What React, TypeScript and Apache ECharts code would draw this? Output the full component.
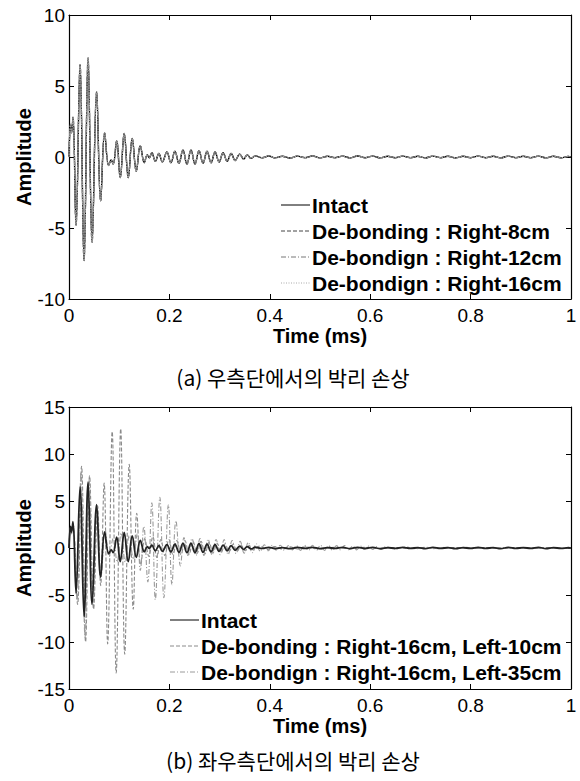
import React, { useEffect, useRef } from "react";
import * as echarts from "echarts";

// ---------- data (time in ms, amplitude) ----------
const timeTicks = { min: 0, max: 1, interval: 0.2 };
const ampRangeA = { min: -10, max: 10, interval: 5 };
const ampRangeB = { min: -15, max: 15, interval: 5 };

const namesA = [
  "Intact",
  "De-bonding : Right-8cm",
  "De-bondign : Right-12cm",
  "De-bondign : Right-16cm",
];
const namesB = [
  "Intact",
  "De-bonding : Right-16cm, Left-10cm",
  "De-bondign : Right-16cm, Left-35cm",
];

const captionA = "(a) 우측단에서의 박리 손상";
const captionB = "(b) 좌우측단에서의 박리 손상";

// Intact signal (same in both panels)
const intact: [number, number][] = [
  [0, 0], [0.003, 2.3], [0.005, 1.7], [0.008, 2.8], [0.014, -4.8], [0.022, 6.5],
  [0.030, -7.3], [0.038, 7.0], [0.046, -6.0], [0.055, 4.6], [0.063, -3.1], [0.071, 1.7],
  [0.079, -0.6], [0.084, -0.2], [0.088, -0.5], [0.095, 1.15], [0.102, -1.45], [0.110, 1.65],
  [0.118, -1.45], [0.126, 1.3], [0.134, -1.0], [0.142, 0.8], [0.150, -0.4], [0.156, 0.15],
  [0.160, -0.05], [0.165, 0.3], [0.172, -0.3], [0.179, 0.25], [0.186, -0.35], [0.195, 0.35],
  [0.203, -0.4], [0.211, 0.4], [0.219, -0.45], [0.227, 0.5], [0.235, -0.5], [0.243, 0.5],
  [0.251, -0.5], [0.259, 0.45], [0.267, -0.45], [0.275, 0.4], [0.283, -0.4], [0.291, 0.35],
  [0.299, -0.35], [0.307, 0.3], [0.315, -0.3], [0.323, 0.25], [0.331, -0.25], [0.340, 0.2],
  [0.348, -0.15], [0.355, 0.15], [0.363, -0.1], [0.371, 0.08], [0.385, -0.05], [0.398, 0.07],
  [0.41, -0.06], [0.425, 0.05], [0.44, -0.07], [0.455, 0.06], [0.47, -0.05], [0.485, 0.07],
  [0.5, -0.06], [0.515, 0.05], [0.53, -0.05], [0.545, 0.06], [0.56, -0.06], [0.575, 0.07],
  [0.59, -0.05], [0.605, 0.06], [0.62, -0.06], [0.635, 0.05], [0.65, -0.05], [0.665, 0.06],
  [0.68, -0.05], [0.695, 0.05], [0.71, -0.06], [0.725, 0.06], [0.74, -0.05], [0.755, 0.05],
  [0.77, -0.06], [0.785, 0.05], [0.8, -0.05], [0.815, 0.06], [0.83, -0.05], [0.845, 0.05],
  [0.86, -0.06], [0.875, 0.06], [0.89, -0.05], [0.905, 0.05], [0.92, -0.05], [0.935, 0.06],
  [0.95, -0.06], [0.965, 0.05], [0.98, -0.05], [0.995, 0.04], [1.0, 0],
];

// Panel (a): the three right-end de-bonding signals coincide with the intact one
const right8 = intact;
const right12 = intact;
const right16 = intact;

// Panel (b)
const left10: [number, number][] = [
  [0, 0], [0.003, 2.2], [0.005, 1.6], [0.008, 2.6], [0.017, -6.0], [0.025, 8.7],
  [0.033, -10.0], [0.041, 7.7], [0.049, -6.5], [0.057, 4.5], [0.063, -4.0], [0.070, 6.9],
  [0.077, -10.2], [0.086, 12.4], [0.094, -13.3], [0.103, 12.7], [0.111, -11.3], [0.120, 8.9],
  [0.128, -6.5], [0.135, 3.7], [0.143, -1.8], [0.151, 1.0], [0.159, -0.9], [0.167, 1.2],
  [0.175, -1.0], [0.183, 0.9], [0.191, -0.8], [0.199, 0.9], [0.207, -0.7], [0.215, 0.8],
  [0.223, -0.7], [0.231, 0.8], [0.239, -0.7], [0.247, 0.7], [0.255, -0.6], [0.263, 0.7],
  [0.271, -0.6], [0.279, 0.6], [0.287, -0.5], [0.295, 0.5], [0.303, -0.5], [0.311, 0.45],
  [0.319, -0.4], [0.327, 0.4], [0.335, -0.35], [0.343, 0.3], [0.351, -0.3], [0.359, 0.25],
  [0.367, -0.2], [0.38, 0.2], [0.395, -0.15], [0.41, 0.15], [0.425, -0.12], [0.44, 0.12],
  [0.455, -0.1], [0.47, 0.1], [0.5, -0.08], [0.53, 0.08], [0.56, -0.07], [0.59, 0.07],
  [0.62, -0.06], [0.65, 0.06], [0.68, -0.06], [0.71, 0.05], [0.74, -0.05], [0.77, 0.05],
  [0.8, -0.05], [0.83, 0.05], [0.86, -0.05], [0.89, 0.05], [0.92, -0.05], [0.95, 0.05],
  [0.98, -0.04], [1.0, 0],
];

const left35: [number, number][] = [
  [0, 0], [0.003, 2.0], [0.005, 1.5], [0.008, 2.5], [0.016, -5.5], [0.024, 8.0],
  [0.032, -9.5], [0.040, 7.3], [0.048, -5.8], [0.056, 4.2], [0.064, -3.0], [0.072, 1.9],
  [0.080, -0.9], [0.088, 1.0], [0.096, -1.5], [0.104, 1.6], [0.112, -1.5], [0.120, 1.3],
  [0.128, -1.2], [0.136, 1.5], [0.142, -2.4], [0.149, 2.3], [0.157, -3.6], [0.165, 4.8],
  [0.172, -5.5], [0.181, 5.4], [0.189, -5.3], [0.198, 4.6], [0.205, -3.9], [0.213, 2.9],
  [0.222, -1.9], [0.229, 1.1], [0.237, -0.8], [0.245, 1.0], [0.253, -0.8], [0.261, 1.0],
  [0.269, -0.8], [0.277, 0.95], [0.285, -0.75], [0.293, 0.9], [0.301, -0.7], [0.309, 0.9],
  [0.317, -0.7], [0.325, 0.8], [0.333, -0.6], [0.341, 0.7], [0.349, -0.55], [0.357, 0.6],
  [0.365, -0.5], [0.373, 0.45], [0.381, -0.35], [0.389, 0.35], [0.397, -0.3], [0.405, 0.3],
  [0.413, -0.25], [0.421, 0.3], [0.429, -0.25], [0.437, 0.25], [0.445, -0.2], [0.453, 0.25],
  [0.461, -0.25], [0.469, 0.3], [0.477, -0.25], [0.485, 0.3], [0.493, -0.25], [0.501, 0.3],
  [0.509, -0.25], [0.517, 0.25], [0.525, -0.25], [0.533, 0.25], [0.541, -0.2], [0.549, 0.25],
  [0.557, -0.2], [0.565, 0.2], [0.573, -0.2], [0.581, 0.2], [0.589, -0.15], [0.597, 0.2],
  [0.605, -0.15], [0.613, 0.15], [0.621, -0.15], [0.63, 0.12], [0.65, -0.1], [0.67, 0.1],
  [0.69, -0.08], [0.71, 0.08], [0.73, -0.08], [0.75, 0.07], [0.77, -0.07], [0.79, 0.07],
  [0.81, -0.06], [0.83, 0.06], [0.85, -0.06], [0.87, 0.06], [0.89, -0.05], [0.91, 0.05],
  [0.93, -0.05], [0.95, 0.05], [0.97, -0.04], [0.99, 0.04], [1.0, 0],
];

// ---------- styling ----------
const FONT = "'Liberation Sans', Arial, Helvetica, sans-serif";
const KFONT = "'Noto Sans CJK KR', sans-serif";

type Style = { color: string; width: number; dash: number[] | null };
const stylesA: Style[] = [
  { color: "#000", width: 1.4, dash: null },
  { color: "#444", width: 1.2, dash: [4, 2] },
  { color: "#777", width: 1.2, dash: [5, 2, 1, 2] },
  { color: "#aaa", width: 1.2, dash: [1, 1.5] },
];
const stylesB: Style[] = [
  { color: "#222", width: 1.8, dash: null },
  { color: "#8a8a8a", width: 1.1, dash: [4, 2] },
  { color: "#9a9a9a", width: 1.1, dash: [5, 2, 1, 2] },
];

function xAxisPair(gridIndex: number) {
  const common = {
    type: "value" as const,
    gridIndex,
    min: timeTicks.min,
    max: timeTicks.max,
    interval: timeTicks.interval,
    splitLine: { show: false },
    axisLine: { show: true, onZero: false, lineStyle: { color: "#000", width: 1.2 } },
    axisTick: { show: true, inside: true, length: 5, lineStyle: { color: "#000", width: 1 } },
  };
  return [
    {
      ...common,
      position: "bottom",
      axisLabel: { color: "#000", fontSize: 19, fontFamily: FONT, margin: 7 },
      name: "Time (ms)",
      nameLocation: "middle",
      nameGap: 27,
      nameTextStyle: { color: "#000", fontSize: 20, fontWeight: "bold", fontFamily: FONT },
    },
    { ...common, position: "top", axisLabel: { show: false } },
  ];
}

function yAxisPair(gridIndex: number, r: { min: number; max: number; interval: number }) {
  const common = {
    type: "value" as const,
    gridIndex,
    min: r.min,
    max: r.max,
    interval: r.interval,
    splitLine: { show: false },
    axisLine: { show: true, onZero: false, lineStyle: { color: "#000", width: 1.2 } },
    axisTick: { show: true, inside: true, length: 5, lineStyle: { color: "#000", width: 1 } },
  };
  return [
    {
      ...common,
      position: "left",
      axisLabel: { color: "#000", fontSize: 19, fontFamily: FONT, margin: 4 },
      name: "Amplitude",
      nameLocation: "middle",
      nameRotate: 90,
      nameGap: 35,
      nameMoveOverlap: false,
      nameTextStyle: { color: "#000", fontSize: 20, fontWeight: "bold", fontFamily: FONT },
    },
    { ...common, position: "right", axisLabel: { show: false } },
  ];
}

function lineSeries(name: string, data: [number, number][], axisIndex: number, s: Style) {
  return {
    type: "line",
    name,
    data,
    xAxisIndex: axisIndex,
    yAxisIndex: axisIndex,
    showSymbol: false,
    symbol: "none",
    smooth: 0.4,
    clip: true,
    lineStyle: { color: s.color, width: s.width, type: s.dash ?? "solid" },
    itemStyle: { color: s.color },
  };
}

function legendGraphics(names: string[], styles: Style[], left: number, top: number, gap: number) {
  const els: any[] = [];
  names.forEach((n, i) => {
    const y = top + i * gap;
    els.push({
      type: "line",
      shape: { x1: left, y1: y, x2: left + 29, y2: y },
      style: {
        stroke: i === 0 ? "#000" : styles[i].color,
        lineWidth: 1,
        lineDash: styles[i].dash ?? undefined,
      },
    });
    els.push({
      type: "text",
      x: left + 31,
      y,
      style: {
        text: n,
        fill: "#000",
        font: `bold 21px ${FONT}`,
        textAlign: "left",
        textVerticalAlign: "middle",
      },
    });
  });
  return els;
}

export default function App() {
  const ref = useRef<HTMLDivElement>(null);

  useEffect(() => {
    if (!ref.current) return;
    const chart = echarts.init(ref.current, undefined, { renderer: "svg" });
    const [xa0, xa1] = xAxisPair(0);
    const [xb0, xb1] = xAxisPair(1);
    const [ya0, ya1] = yAxisPair(0, ampRangeA);
    const [yb0, yb1] = yAxisPair(1, ampRangeB);

    chart.setOption({
      animation: false,
      backgroundColor: "#fff",
      grid: [
        { left: 69, top: 15, width: 502, height: 284 },
        { left: 69, top: 407, width: 502, height: 282 },
      ],
      xAxis: [xa0, xa1, xb0, xb1],
      yAxis: [ya0, ya1, yb0, yb1],
      graphic: [
        ...legendGraphics(namesA, stylesA, 281, 205, 26),
        ...legendGraphics(namesB, stylesB, 170, 620, 26),
        {
          type: "text",
          x: 293,
          y: 377,
          style: { text: captionA, fill: "#000", font: `21px ${KFONT}`, textAlign: "center", textVerticalAlign: "middle" },
        },
        {
          type: "text",
          x: 293,
          y: 760,
          style: { text: captionB, fill: "#000", font: `21px ${KFONT}`, textAlign: "center", textVerticalAlign: "middle" },
        },
      ],
      series: [
        lineSeries(namesA[0], intact, 0, stylesA[0]),
        lineSeries(namesA[1], right8, 0, stylesA[1]),
        lineSeries(namesA[2], right12, 0, stylesA[2]),
        lineSeries(namesA[3], right16, 0, stylesA[3]),
        lineSeries(namesB[1], left10, 2, stylesB[1]),
        lineSeries(namesB[2], left35, 2, stylesB[2]),
        lineSeries(namesB[0], intact, 2, stylesB[0]),
      ],
    });
    return () => chart.dispose();
  }, []);

  return (
    <div
      ref={ref}
      style={{ position: "fixed", left: 0, top: 0, width: 580, height: 781, background: "#fff" }}
    />
  );
}
